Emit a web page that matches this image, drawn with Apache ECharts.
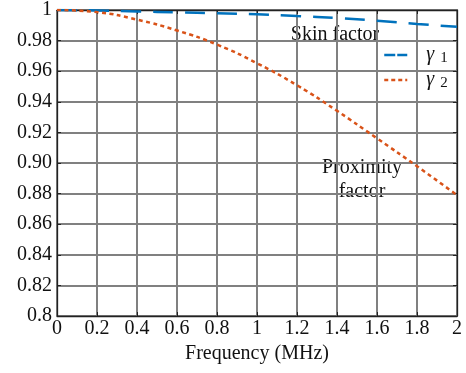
<!DOCTYPE html>
<html><head><meta charset="utf-8">
<script src="https://cdn.jsdelivr.net/npm/echarts@6/dist/echarts.min.js"></script>
<style>html,body{margin:0;padding:0;background:#fff}#c{width:466px;height:373px}</style>
</head><body><div id="c"></div>
<script>
var freq = [0, 0.2, 0.4, 0.6, 0.8, 1.0, 1.2, 1.4, 1.6, 1.8, 2.0];
var gamma1 = [1.0, 0.9997, 0.9990, 0.9985, 0.9979, 0.9972, 0.9960, 0.9947, 0.9930, 0.9909, 0.9890];
var gamma2 = [1.0, 0.9986, 0.9937, 0.9866, 0.9774, 0.9652, 0.9508, 0.9341, 0.9161, 0.8979, 0.8790];
var xTickLabels = ['0','0.2','0.4','0.6','0.8','1','1.2','1.4','1.6','1.8','2'];
var yTickLabels = ['0.8','0.82','0.84','0.86','0.88','0.90','0.92','0.94','0.96','0.98','1'];
var FONT = 'Liberation Serif';
var FS = 20;
var chart = echarts.init(document.getElementById('c'));
function pairs(ys){ return freq.map(function(f,i){return [f, ys[i]];}); }
var gridLineStyle = {color:'#808080', width:2};
var axisBase = {
  axisLine:{show:true, onZero:false, lineStyle:{color:'#222', width:1.3}},
  axisTick:{show:true, inside:true, length:4, lineStyle:{color:'#222'}}
};
chart.setOption({
  animation:false,
  grid:{left:57, right:9, top:8, bottom:57},
  xAxis:[
    Object.assign({type:'value', min:0, max:2, interval:0.2, position:'bottom',
      name:'Frequency (MHz)', nameLocation:'middle', nameGap:27,
      nameTextStyle:{fontFamily:FONT, fontSize:FS, color:'#111'},
      axisLabel:{fontFamily:FONT, fontSize:FS, color:'#111', margin:3,
        formatter:function(v){return xTickLabels[Math.round(v/0.2)];}},
      splitLine:{show:true, lineStyle:gridLineStyle}}, axisBase),
    Object.assign({type:'value', min:0, max:2, interval:0.2, position:'top',
      axisLabel:{show:false}, splitLine:{show:false}}, axisBase)
  ],
  yAxis:[
    Object.assign({type:'value', min:0.8, max:1, interval:0.02, position:'left',
      axisLabel:{fontFamily:FONT, fontSize:FS, color:'#111', margin:5,
        formatter:function(v){return yTickLabels[Math.round((v-0.8)/0.02)];}},
      splitLine:{show:true, lineStyle:gridLineStyle}}, axisBase),
    Object.assign({type:'value', min:0.8, max:1, interval:0.02, position:'right',
      axisLabel:{show:false}, splitLine:{show:false}}, axisBase)
  ],
  legend:{
    orient:'vertical', left:378, top:40, itemWidth:23, itemHeight:16, itemGap:4,
    itemStyle:{opacity:0},
    data:[{name:'g1', lineStyle:{type:[11,2], width:2.5}}, {name:'g2', lineStyle:{type:[4,3], width:2.5}}],
    formatter:function(n){ return n==='g1' ? '{g|γ}{s|1}' : '{g|γ}{s|2}'; },
    textStyle:{fontFamily:FONT, fontSize:FS, color:'#111',
      rich:{g:{fontFamily:FONT, fontSize:FS, fontStyle:'italic', padding:[0,0,0,14]},
            s:{fontFamily:FONT, fontSize:15, padding:[7,0,0,6]}}}
  },
  series:[
    {name:'g1', type:'line', data:pairs(gamma1), smooth:true, showSymbol:false, symbol:'none',
     lineStyle:{color:'#0072BD', width:2.5, type:[20,12]}, itemStyle:{color:'#0072BD'}, z:3},
    {name:'g2', type:'line', data:pairs(gamma2), smooth:true, showSymbol:false, symbol:'none',
     lineStyle:{color:'#D95319', width:2.5, type:[4,3.5]}, itemStyle:{color:'#D95319'}, z:3}
  ],
  graphic:[
    {type:'text', x:335, y:35, style:{text:'Skin factor', font:FS+'px "Liberation Serif"', fill:'#111', textAlign:'center', textVerticalAlign:'middle'}},
    {type:'text', x:362, y:168, style:{text:'Proximity', font:FS+'px "Liberation Serif"', fill:'#111', textAlign:'center', textVerticalAlign:'middle'}},
    {type:'text', x:362, y:192, style:{text:'factor', font:FS+'px "Liberation Serif"', fill:'#111', textAlign:'center', textVerticalAlign:'middle'}}
  ]
});
</script></body></html>
